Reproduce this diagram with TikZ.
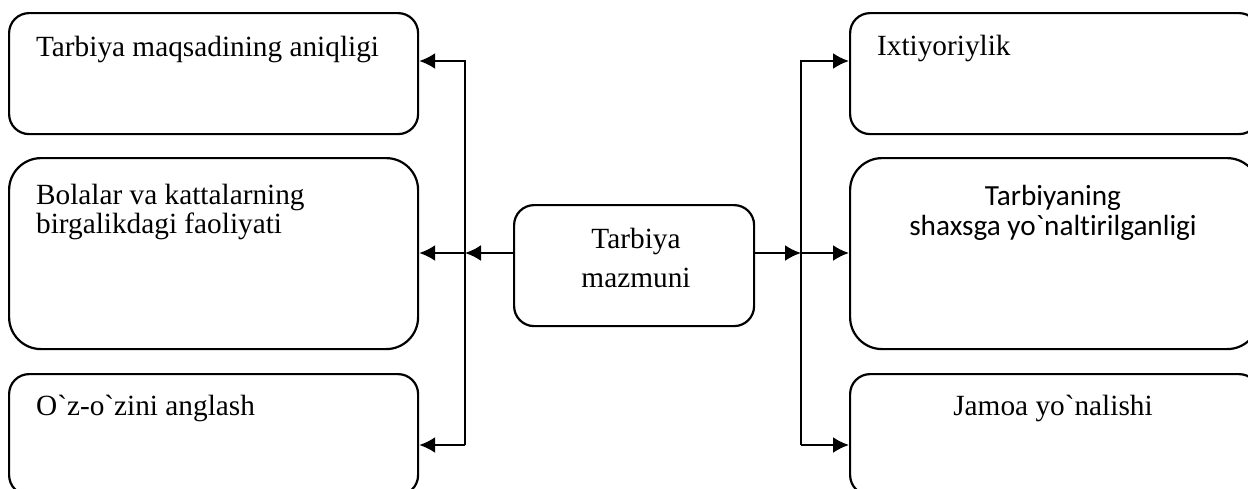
\documentclass[tikz,border=0pt]{standalone}
\usepackage{fontspec}
\setmainfont{Liberation Serif}[Ligatures=TeXOff]
\setsansfont{Carlito}[Ligatures={TeXOff,CommonOff}]
\usetikzlibrary{arrows.meta}

\begin{document}
\begin{tikzpicture}[x=1pt,y=-1pt,line width=2.2pt,
    box/.style={draw, rounded corners=20pt, minimum width=409pt, minimum height=121pt, inner sep=0pt, anchor=north west},
    tall/.style={box, minimum height=191pt, rounded corners=32pt},
    txt/.style={inner sep=0pt, font=\fontsize{29.3}{29}\selectfont},
    >={Latex[length=16pt,width=16pt]}]
   \useasboundingbox (0,0) rectangle (1248,488);

   % left column
   \node[box] (aniq) at (8,12) {};
   \node[tall] (faol) at (8,157) {};
   \node[box] (angl) at (8,373) {};
   \node[txt, anchor=base west] (aniqt) at (35,56) {Tarbiya maqsadining aniqligi};
   \node[txt, anchor=base west, align=left] (faolt) at (35,233) {Bolalar va kattalarning\\birgalikdagi faoliyati};
   \node[txt, anchor=base west] (anglt) at (35,415) {O`z-o`zini anglash};

   % centre
   \node[box, minimum width=240pt] (mazm) at (513,204) {};
   \node[txt, anchor=base, align=center, font=\fontsize{29.3}{39}\selectfont] (mazmt) at (636,287) {Tarbiya\\mazmuni};

   % right column
   \node[box] (ixti) at (849,12) {};
   \node[tall] (shax) at (849,157) {};
   \node[box] (jamo) at (849,373) {};
   \node[txt, anchor=base west] (ixtit) at (876,55) {Ixtiyoriylik};
   \node[txt, anchor=base, align=center, font=\sffamily\fontsize{29.2}{30}\selectfont] (shaxt) at (1053,235) {Tarbiyaning\\shaxsga yo`naltirilganligi};
   \node[txt, anchor=base] (jamot) at (1053,415) {Jamoa yo`nalishi};

   \coordinate (lt) at (465,61);
   \coordinate (lm) at (465,253);
   \coordinate (lb) at (465,445);
   \coordinate (rt) at (801,61);
   \coordinate (rm) at (801,253);
   \coordinate (rb) at (801,445);

   \draw[->] (lb) -- (lt) -- (aniq.east |- lt);
   \draw[->] (lb) -- (angl.east |- lb);
   \draw[->] (mazm.west |- lm) -- (lm);
   \draw[->] (lm) -- (faol.east |- lm);

   \draw[->] (rb) -- (rt) -- (ixti.west |- rt);
   \draw[->] (rb) -- (jamo.west |- rb);
   \draw[->] (mazm.east |- rm) -- (rm);
   \draw[->] (rm) -- (shax.west |- rm);
\end{tikzpicture}
\end{document}
